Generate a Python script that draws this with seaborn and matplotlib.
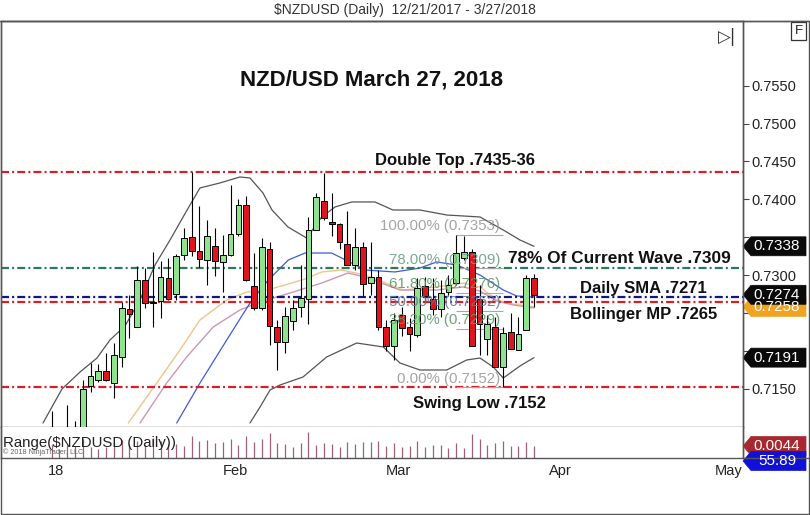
import numpy as np
import pandas as pd
import matplotlib
matplotlib.use('Agg')
import matplotlib.pyplot as plt
import seaborn as sns
from matplotlib.patches import Polygon, Rectangle
from matplotlib.lines import Line2D

sns.set_theme(style='white')
plt.rcParams['font.family'] = ['Liberation Sans', 'DejaVu Sans']

# ---------------- data ----------------
dates = pd.bdate_range('2017-12-29', '2018-03-27')
opens = [0.7098, 0.7080, 0.7088, 0.7095, 0.7075, 0.7154, 0.7161, 0.7173, 0.7157, 0.7192,
         0.7255, 0.7232, 0.7294, 0.7265, 0.7266, 0.7296, 0.7275, 0.7326, 0.7350, 0.7332,
         0.7320, 0.7338, 0.7317, 0.7327, 0.7354, 0.7393, 0.7286, 0.7256, 0.7335, 0.7232,
         0.7212, 0.7239, 0.7258, 0.7269, 0.7360, 0.7398, 0.7370, 0.7367, 0.7341, 0.7313,
         0.7337, 0.7289, 0.7298, 0.7232, 0.7206, 0.7247, 0.7231, 0.7221, 0.7285, 0.7269,
         0.7255, 0.7278, 0.7289, 0.7322, 0.7330, 0.7269, 0.7215, 0.7232, 0.7178, 0.7225,
         0.7201, 0.7228, 0.7296]
highs = [0.7121, 0.7094, 0.7129, 0.7107, 0.7162, 0.7184, 0.7183, 0.7197, 0.7210, 0.7265,
         0.7274, 0.7312, 0.7309, 0.7330, 0.7319, 0.7323, 0.7328, 0.7362, 0.7436, 0.7391,
         0.7373, 0.7362, 0.7353, 0.7419, 0.7401, 0.7404, 0.7329, 0.7349, 0.7344, 0.7241,
         0.7258, 0.7267, 0.7313, 0.7377, 0.7409, 0.7435, 0.7408, 0.7369, 0.7384, 0.7362,
         0.7344, 0.7344, 0.7307, 0.7241, 0.7250, 0.7258, 0.7243, 0.7296, 0.7298, 0.7296,
         0.7294, 0.7300, 0.7353, 0.7352, 0.7335, 0.7287, 0.7247, 0.7245, 0.7232, 0.7250,
         0.7245, 0.7300, 0.7302]
lows = [0.7070, 0.7070, 0.7075, 0.7060, 0.7068, 0.7145, 0.7159, 0.7160, 0.7138, 0.7179,
        0.7217, 0.7231, 0.7257, 0.7232, 0.7243, 0.7267, 0.7267, 0.7320, 0.7325, 0.7311,
        0.7287, 0.7299, 0.7278, 0.7325, 0.7352, 0.7292, 0.7254, 0.7254, 0.7208, 0.7175,
        0.7197, 0.7228, 0.7245, 0.7236, 0.7360, 0.7373, 0.7351, 0.7335, 0.7313, 0.7307,
        0.7272, 0.7274, 0.7228, 0.7200, 0.7188, 0.7219, 0.7200, 0.7218, 0.7263, 0.7247,
        0.7245, 0.7272, 0.7287, 0.7320, 0.7206, 0.7195, 0.7195, 0.7178, 0.7152, 0.7203,
        0.7201, 0.7228, 0.7258]
closes = [0.7080, 0.7088, 0.7095, 0.7070, 0.7149, 0.7167, 0.7174, 0.7161, 0.7194, 0.7257,
          0.7248, 0.7294, 0.7263, 0.7263, 0.7297, 0.7269, 0.7325, 0.7349, 0.7332, 0.7321,
          0.7351, 0.7318, 0.7327, 0.7354, 0.7393, 0.7294, 0.7256, 0.7337, 0.7233, 0.7212,
          0.7246, 0.7257, 0.7270, 0.7360, 0.7403, 0.7376, 0.7367, 0.7344, 0.7313, 0.7337,
          0.7288, 0.7298, 0.7232, 0.7206, 0.7241, 0.7230, 0.7222, 0.7283, 0.7272, 0.7255,
          0.7276, 0.7287, 0.7329, 0.7331, 0.7206, 0.7236, 0.7236, 0.7178, 0.7224, 0.7203,
          0.7222, 0.7296, 0.7274]

# indicator traces (bar index, value)
bb_upper_x = [-1.12, 1.32, 3.64, 5.82, 7.49, 9.42, 11.35, 13.28, 15.21, 17.26, 19.06, 21.63,
              24.2, 25.49, 27.16, 28.32, 30.37, 32.78, 34.71, 36.42, 38.57, 41.56, 43.87,
              47.34, 50.78, 55.06, 58.05, 60.2, 62.0]
bb_upper = [0.71047, 0.71496, 0.71720, 0.71905, 0.72143, 0.72328, 0.72671, 0.73133, 0.73463,
            0.73833, 0.74150, 0.74216, 0.74295, 0.74282, 0.74084, 0.73859, 0.73635, 0.73489,
            0.73767, 0.73899, 0.73965, 0.73965, 0.73859, 0.73859, 0.73793, 0.73767, 0.73595,
            0.73463, 0.7338]
bb_lower_x = [25.49, 26.78, 28.07, 29.35, 32.3, 35.35, 39.21, 42.63, 44.77, 47.34, 50.78,
              53.35, 55.06, 56.77, 58.05, 60.2, 62.0]
bb_lower = [0.71047, 0.71258, 0.71483, 0.71549, 0.71654, 0.71919, 0.72103, 0.72051, 0.71839,
            0.71747, 0.71747, 0.71879, 0.71905, 0.71786, 0.71641, 0.71800, 0.7191]
sma_x = [16.07, 19.06, 22.5, 25.49, 27.84, 30.42, 32.56, 35.99, 38.57, 40.28, 44.13, 47.34,
         49.49, 52.06, 55.06, 58.05, 59.78, 62.0]
sma = [0.71047, 0.71575, 0.72143, 0.72631, 0.72935, 0.73199, 0.73291, 0.73291, 0.73159,
       0.73067, 0.73041, 0.73093, 0.73173, 0.73133, 0.73001, 0.72803, 0.72724, 0.7271]
ma_orange_x = [9.85, 13.5, 16.49, 19.06, 22.5, 25.07, 27.2, 29.99, 32.56, 34.71, 37.28, 40.28,
               45.2, 49.49, 52.91, 55.06, 57.21, 59.34, 62.0]
ma_orange = [0.71047, 0.71575, 0.72011, 0.72407, 0.72671, 0.72777, 0.72790, 0.72869, 0.72948,
             0.73041, 0.73067, 0.73001, 0.72803, 0.72843, 0.72895, 0.72843, 0.72671, 0.72618,
             0.7258]
ma_pink_x = [11.35, 14.78, 17.35, 20.77, 24.2, 26.78, 30.63, 34.71, 38.09, 40.28, 44.77,
             49.49, 52.91, 55.06, 57.21, 59.34, 62.0]
ma_pink = [0.71047, 0.71575, 0.71919, 0.72315, 0.72539, 0.72645, 0.72763, 0.72895, 0.73027,
           0.72975, 0.72803, 0.72803, 0.72843, 0.72790, 0.72658, 0.72605, 0.72566]

level_values = [0.74355, 0.7309, 0.7271, 0.7265, 0.7152]
level_labels = ['Double Top .7435-36', '78% Of Current Wave .7309', 'Daily SMA .7271',
                'Bollinger MP .7265', 'Swing Low .7152']
fib_high, fib_low = 0.7353, 0.7152
fib_ratios = [1.0, 0.78, 0.618, 0.50, 0.382, 0.0]
month_labels = ['18', 'Feb', 'Mar', 'Apr', 'May']
y_tick_values = [0.7150, 0.7200, 0.7250, 0.7300, 0.7350, 0.7400, 0.7450, 0.7500, 0.7550]
y_tick_hidden = [0.7200, 0.7250, 0.7350]   # covered by value tags in the original
other_indicator_value = 55.89

# ---------------- layout ----------------
W, H = 810, 515
def fx(px):
    return px / W
def fy(py):
    return 1 - py / H

fig = plt.figure(figsize=(W / 100, H / 100), dpi=100)
fig.patch.set_facecolor('white')
ax = fig.add_axes([fx(1), fy(427), 742 / W, 406 / H])
ax2 = fig.add_axes([fx(1), fy(458), 742 / W, 31 / H])

xlim = (-6.518, 88.87)
ax.set_xlim(*xlim)
ax.set_ylim(0.709944, 0.763541)
ax2.set_xlim(*xlim)
ax2.set_ylim(-0.00392, 0.01757)

idx = np.arange(len(opens))
o = np.array(opens); h = np.array(highs); l = np.array(lows); c = np.array(closes)

# indicators (seaborn lines)
sns.lineplot(x=bb_upper_x, y=bb_upper, ax=ax, color='#555555', lw=0.9, estimator=None)
sns.lineplot(x=bb_lower_x, y=bb_lower, ax=ax, color='#555555', lw=0.9, estimator=None)
sns.lineplot(x=ma_orange_x, y=ma_orange, ax=ax, color='#F2C48A', lw=1.0, estimator=None)
sns.lineplot(x=ma_pink_x, y=ma_pink, ax=ax, color='#CC98B0', lw=1.0, estimator=None)
sns.lineplot(x=sma_x, y=sma, ax=ax, color='#3F5BD8', lw=0.9, estimator=None)

# horizontal levels
dd = (0, (3.6, 1.4, 0.9, 1.4))
level_colors = ['#D42026', '#2E7A58', '#141482', '#D42026', '#D42026']
for v, col in zip(level_values, level_colors):
    ax.axhline(v, color=col, lw=1.6, ls=dd, zorder=2)

# fib retracement
fib_vals = [fib_low + r * (fib_high - fib_low) for r in fib_ratios]
fib_cols = ['#9A9A9A', '#6E9E88', '#5E9A66', '#66789C', '#5E9A66', '#9A9A9A']
for r, v, col in zip(fib_ratios, fib_vals, fib_cols):
    ax.hlines(v, 52, 58, color='#A8A8A8', lw=0.8, zorder=2)
    ax.annotate(f'{r * 100:.2f}% ({v:.4f})', xy=(57.65, v), xytext=(0, 1.2),
                textcoords='offset points', ha='right', va='bottom', fontsize=10.8,
                color=col, alpha=0.9, zorder=6)

# candles
ax.vlines(idx, l, h, color='black', lw=0.8, zorder=3)
body_bottom = np.minimum(o, c)
body_h = np.maximum(np.abs(c - o), 0.00006)
cols = ['#8FE38F' if cc > oo else ('#E0141C' if cc < oo else '#9A9A9A') for oo, cc in zip(o, c)]
ax.bar(idx, body_h, bottom=body_bottom, width=0.74, color=cols, edgecolor='black',
       linewidth=0.7, zorder=4)

# level labels
lab_pos = [(51.9, 8.6), (73.0, 7.2), (76.1, 5.8), (76.06, -9.6), (55.05, -11.5)]
lab_size = [12, 12.4, 12, 12, 12]
for (xk, dy), v, t, fs in zip(lab_pos, level_values, level_labels, lab_size):
    ax.annotate(t, xy=(xk, v), xytext=(0, dy), textcoords='offset points', ha='center',
                va='center', fontsize=fs, fontweight='bold', color='#111111', zorder=7)

ax.text(41.05, 0.75575, 'NZD/USD March 27, 2018', ha='center', va='center', fontsize=16,
        fontweight='bold', color='#111111', zorder=7)

# axes styling main
for s in ax.spines.values():
    s.set_color('#555555'); s.set_linewidth(1.0)
ax.set_xticks([])
ax.yaxis.tick_right()
ax.set_yticks(y_tick_values)
ax.set_yticklabels(['' if v in y_tick_hidden else f'{v:.4f}' for v in y_tick_values])
ax.tick_params(axis='y', direction='out', length=4, width=0.8, color='#444444',
               labelsize=10.5, labelcolor='#222222', pad=2)
ax.set_xlabel(''); ax.set_ylabel('')

# range panel
rng = h - l
ax2.vlines(idx, ax2.get_ylim()[0], rng, color='#A06078', lw=0.9)
for s in ax2.spines.values():
    s.set_color('#555555'); s.set_linewidth(1.0)
ax2.spines['top'].set_visible(False)
ax2.set_yticks([])
tick_pos = [0.53, 23.56, 44.52, 65.34, 87.07]
ax2.set_xticks(tick_pos)
ax2.set_xticklabels(month_labels)
ax2.tick_params(axis='x', direction='in', length=4, width=0.8, color='#444444',
                labelsize=10.5, labelcolor='#222222', pad=4)
ax2.text(0.003, 0.5, 'Range(\\$NZDUSD (Daily))', transform=ax2.transAxes, fontsize=10.8,
         color='#222222', va='center', ha='left')
fig.text(fx(3), fy(452), '\u00a9 2018 NinjaTrader, LLC', fontsize=5.2, color='#666666',
         va='center', ha='left')

# ---------------- chrome ----------------
fig.text(fx(405), fy(10), '\\$NZDUSD (Daily)  12/21/2017 - 3/27/2018', ha='center',
         va='center', fontsize=10, color='#333333',
         family=['Liberation Sans Narrow', 'Liberation Sans', 'DejaVu Sans'])
fig.add_artist(Line2D([fx(0), fx(810)], [fy(21), fy(21)], color='#555555', lw=1.0))
fig.add_artist(Line2D([fx(743), fx(810)], [fy(458), fy(458)], color='#555555', lw=1.0))
fig.add_artist(Line2D([fx(743), fx(743)], [fy(21), fy(458)], color='#555555', lw=1.0))
fig.add_artist(Rectangle((fx(0.5), fy(514)), fx(809) - fx(0.5), fy(21) - fy(514),
                         fill=False, edgecolor='#555555', lw=1.0))
fig.add_artist(Rectangle((fx(791), fy(40)), 15 / W, 18 / H, fill=True, facecolor='white',
                         edgecolor='#333333', lw=0.9))
fig.text(fx(798.5), fy(31), 'F', ha='center', va='center', fontsize=9.5, color='#222222')
fig.text(fx(727), fy(37), '\u25b7|', ha='center', va='center', fontsize=12, color='#333333',
         family=['DejaVu Sans'])

def tag(yfig_px_from_top, text, fc, tc='white'):
    yc = yfig_px_from_top
    hh = 9.5
    pts = [(fx(743), fy(yc)), (fx(751), fy(yc - hh)), (fx(806), fy(yc - hh)),
           (fx(806), fy(yc + hh)), (fx(751), fy(yc + hh))]
    fig.add_artist(Polygon(pts, closed=True, facecolor=fc, edgecolor=fc, lw=0.5,
                           transform=fig.transFigure))
    fig.text(fx(777), fy(yc), text, ha='center', va='center', fontsize=11, color=tc)

def price_to_px(axx, v):
    return H - axx.transData.transform((0, v))[1]

tag(price_to_px(ax, bb_upper[-1]), f'{bb_upper[-1]:.4f}', '#0A0A0A')
tag(price_to_px(ax, ma_orange[-1]), f'{ma_orange[-1]:.4f}', '#F0A321')
tag(price_to_px(ax, closes[-1]), f'{closes[-1]:.4f}', '#0A0A0A')
tag(price_to_px(ax, bb_lower[-1]), f'{bb_lower[-1]:.4f}', '#0A0A0A')
tag(price_to_px(ax2, rng[-1]), f'{rng[-1]:.4f}', '#A82830')
tag(461, f'{other_indicator_value:.2f}', '#1010D8')

fig.savefig('out.png', dpi=100, facecolor='white')
